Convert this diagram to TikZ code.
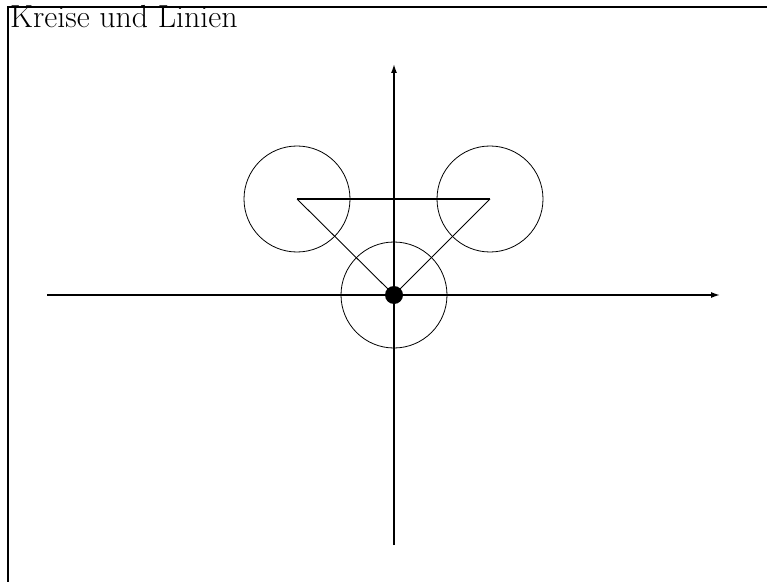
\documentclass[tikz,border=0pt]{standalone}
\usepackage{fontspec}
\usetikzlibrary{arrows.meta}
\begin{document}
\begin{tikzpicture}[x=1bp,y=-1bp,
  axis/.style={line width=1.5bp,-{Latex[length=9bp,width=6bp]}},
  ring/.style={circle,draw,line width=0.8bp,minimum size=106bp,inner sep=0pt},
  tri/.style={line width=0.9bp},
  frame/.style={line width=1.5bp}]
\useasboundingbox (0,0) rectangle (767,582);
\draw[frame] (767,7) -- (8,7) -- (8,582);
\node[anchor=base west,inner sep=0pt,font=\fontsize{32}{36}\selectfont] (title) at (10,28) {Kreise und Linien};
% axes
\coordinate (xs) at (47,295);
\coordinate (xe) at (720,295);
\coordinate (ys) at (394,545);
\coordinate (ye) at (394,64);
\draw[axis] (xs) -- (xe);
\draw[axis] (ys) -- (ye);
% triangle vertices
\coordinate (A) at (297,199);
\coordinate (B) at (490,199);
\coordinate (O) at (394,295);
\node[ring] (cA) at (A) {};
\node[ring] (cB) at (B) {};
\node[ring] (cO) at (O) {};
\draw[line width=1.5bp] (A) -- (B);
\draw[tri] (B) -- (O) -- (A);
\node[circle,fill,minimum size=18bp,inner sep=0pt] (dot) at (O) {};
\end{tikzpicture}
\end{document}
